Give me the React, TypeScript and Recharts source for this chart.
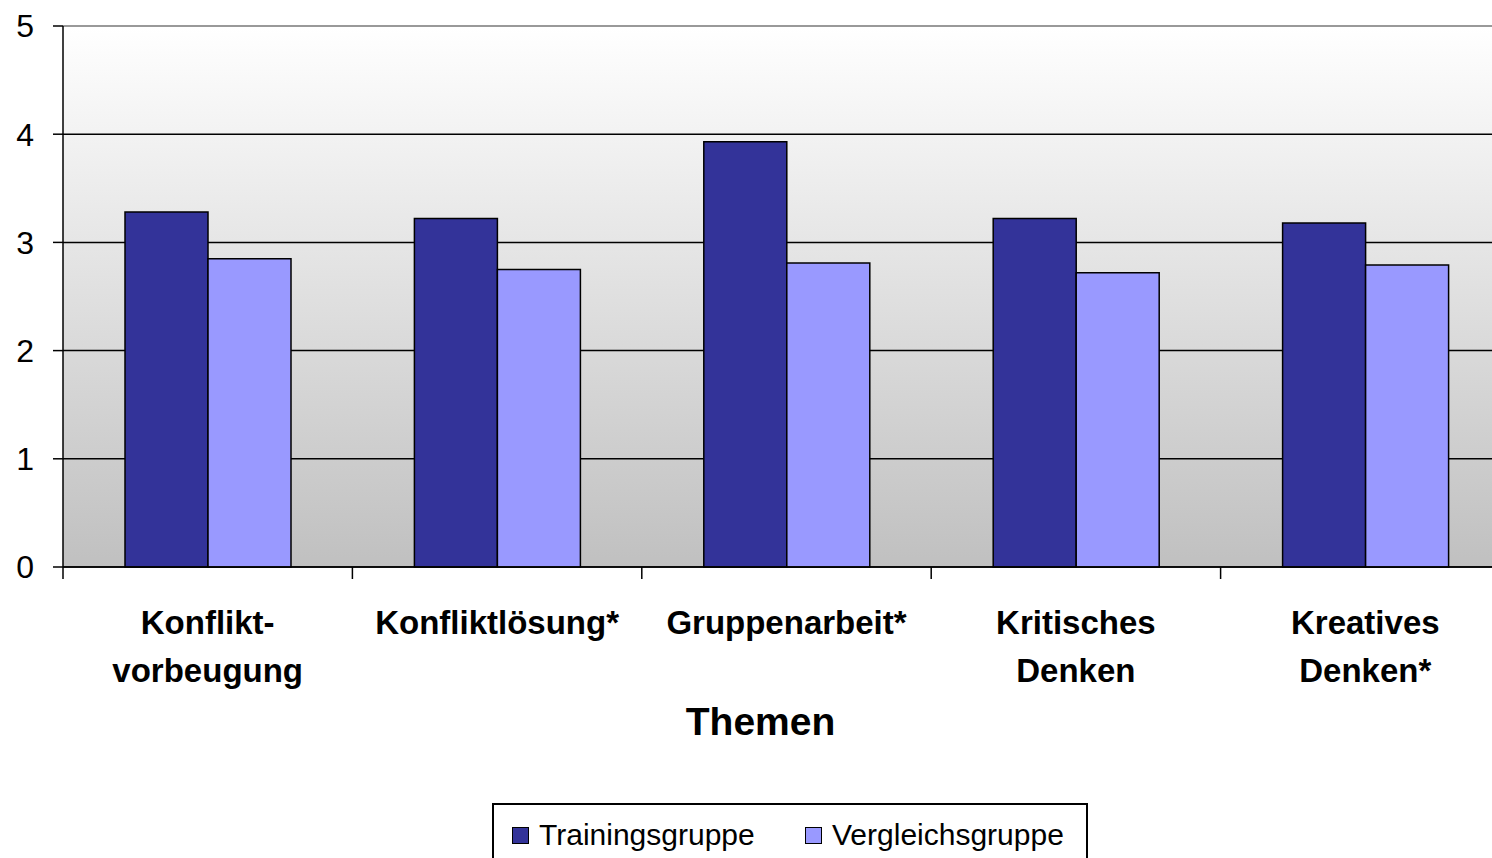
import { Bar, BarChart, CartesianGrid, Legend, ReferenceLine, XAxis, YAxis } from "recharts"

// Categories (line breaks as in the original axis labels)
const categories = [
  "Konflikt-\nvorbeugung",
  "Konfliktlösung*",
  "Gruppenarbeit*",
  "Kritisches\nDenken",
  "Kreatives\nDenken*",
]

const trainingsgruppe = [3.28, 3.22, 3.93, 3.22, 3.18]
const vergleichsgruppe = [2.85, 2.75, 2.81, 2.72, 2.79]

const yTicks = [0, 1, 2, 3, 4, 5]

const data = categories.map((name, i) => ({
  name,
  Trainingsgruppe: trainingsgruppe[i],
  Vergleichsgruppe: vergleichsgruppe[i],
}))

const DARK = "#333399"
const LIGHT = "#9999FF"
const FONT = "'Liberation Sans', Arial, sans-serif"

// plot runs from x=63 to x=1510 -> 5 bands
const BAND = (1510 - 63) / categories.length

function CategoryTick(props: any) {
  const { x, y, payload } = props
  const lines = String(payload.value).split("\n")
  return (
    <g>
      <line x1={x - BAND / 2} y1={y} x2={x - BAND / 2} y2={y + 12} stroke="#000" strokeWidth={1.5} />
      {lines.map((line, i) => (
        <text
          key={i}
          x={x}
          y={y + 67 + i * 48}
          textAnchor="middle"
          fontFamily={FONT}
          fontWeight="bold"
          fontSize={33}
          fill="#000"
        >
          {line}
        </text>
      ))}
    </g>
  )
}

function LegendBox() {
  const items = [
    { label: "Trainingsgruppe", color: DARK, left: 18 },
    { label: "Vergleichsgruppe", color: LIGHT, left: 311 },
  ]
  return (
    <div
      style={{
        position: "relative",
        width: 596,
        height: 70,
        border: "2px solid #000",
        boxSizing: "border-box",
        background: "#fff",
        fontFamily: FONT,
      }}
    >
      {items.map((it) => (
        <div key={it.label} style={{ position: "absolute", left: it.left, top: 15, display: "flex", alignItems: "center" }}>
          <span
            style={{
              display: "inline-block",
              width: 15,
              height: 15,
              background: it.color,
              border: "1.5px solid #000",
              marginRight: 10,
            }}
          />
          <span style={{ fontSize: 30, color: "#000", lineHeight: "30px" }}>{it.label}</span>
        </div>
      ))}
    </div>
  )
}

export default function App() {
  return (
    <div style={{ position: "absolute", left: 0, top: 0, width: 1492, height: 858, overflow: "hidden", background: "#fff" }}>
      <BarChart
        width={1530}
        height={880}
        data={data}
        margin={{ top: 26, right: 20, left: 0, bottom: 133 }}
        barCategoryGap={62}
        barGap={0}
      >
        <defs>
          <linearGradient id="plotBg" x1="0" y1="0" x2="0" y2="1">
            <stop offset="0%" stopColor="#FFFFFF" />
            <stop offset="100%" stopColor="#C0C0C0" />
          </linearGradient>
        </defs>
        <CartesianGrid vertical={false} stroke="#000" strokeWidth={1.5} fill="url(#plotBg)" fillOpacity={1} />
        <ReferenceLine y={5} stroke="#999" strokeWidth={2} />
        <XAxis
          dataKey="name"
          interval={0}
          height={180}
          tickSize={0}
          tickMargin={0}
          tickLine={false}
          axisLine={{ stroke: "#000", strokeWidth: 1.5 }}
          tick={<CategoryTick />}
          label={{
            value: "Themen",
            position: "insideBottom",
            offset: 12,
            dx: -26,
            style: { fontFamily: FONT, fontWeight: "bold", fontSize: 39, fill: "#000" },
          }}
        />
        <YAxis
          width={63}
          domain={[0, 5]}
          ticks={yTicks}
          interval={0}
          tickSize={10}
          tickMargin={19}
          axisLine={{ stroke: "#000", strokeWidth: 1.5 }}
          tickLine={{ stroke: "#000", strokeWidth: 1.5 }}
          tick={{ fontFamily: FONT, fontSize: 32, fill: "#000" }}
        />
        <Legend
          layout="horizontal"
          verticalAlign="middle"
          align="center"
          wrapperStyle={{ top: 803, left: 492, width: 596, height: 70 }}
          content={() => <LegendBox />}
        />
        <Bar dataKey="Trainingsgruppe" fill={DARK} stroke="#000" strokeWidth={1.5} isAnimationActive={false} />
        <Bar dataKey="Vergleichsgruppe" fill={LIGHT} stroke="#000" strokeWidth={1.5} isAnimationActive={false} />
      </BarChart>
    </div>
  )
}
